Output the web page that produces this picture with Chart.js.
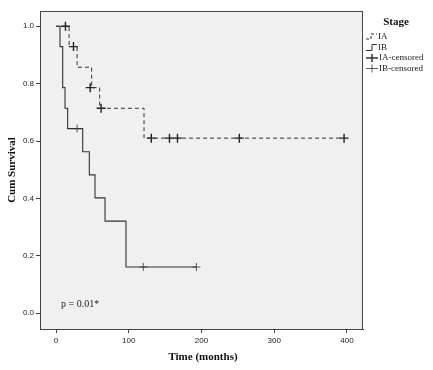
<!DOCTYPE html>
<html>
<head>
<meta charset="utf-8">
<script src="https://cdn.jsdelivr.net/npm/chart.js@4.4.1/dist/chart.umd.min.js"></script>
<style>
  body { margin: 0; background: #fff; }
  #wrap { width: 433px; height: 370px; }
</style>
</head>
<body>
<div id="wrap"><canvas id="grafico_km" width="433" height="370"></canvas></div>
<script>
// curva Kaplan-Meier (tiempo en meses, supervivencia acumulada)
const tiemposIA = [0, 18, 29, 49, 60, 121, 396]
const survIA = [1.0, 0.929, 0.857, 0.786, 0.714, 0.61, 0.61]
const tiemposIB = [0, 5.5, 9.2, 12.4, 16, 36.7, 45.8, 53.6, 67.4, 96.2, 193]
const survIB = [1.0, 0.929, 0.786, 0.714, 0.643, 0.5625, 0.482, 0.402, 0.321, 0.161, 0.161]
// censurados
const censIA_t = [13, 24, 47, 62, 131, 156, 167, 252, 396]
const censIA_s = [1.0, 0.929, 0.786, 0.714, 0.61, 0.61, 0.61, 0.61, 0.61]
const censIB_t = [29, 120, 193]
const censIB_s = [0.643, 0.161, 0.161]

const ticksX = [0, 100, 200, 300, 400]
const ticksY = [0.0, 0.2, 0.4, 0.6, 0.8, 1.0]
const nombresLeyenda = ['IA', 'IB', 'IA-censored', 'IB-censored']
const textoP = 'p = 0.01*'

const puntos = (xs, ys) => xs.map((x, i) => ({ x: x, y: ys[i] }))

const extras = {
  id: 'extras',
  beforeDraw(chart) {
    const { ctx, chartArea: a } = chart
    ctx.save()
    ctx.fillStyle = '#f0f0f0'
    ctx.fillRect(a.left, a.top, a.right - a.left, a.bottom - a.top)
    ctx.restore()
  },
  afterDraw(chart) {
    const { ctx, chartArea: a } = chart
    ctx.save()
    // marco
    ctx.strokeStyle = '#444'
    ctx.lineWidth = 1
    ctx.strokeRect(a.left + 0.5, a.top + 0.5, a.right - a.left - 1, a.bottom - a.top)

    // titulos de ejes
    ctx.fillStyle = '#111'
    ctx.font = 'bold 11px "Liberation Serif", "DejaVu Serif", serif'
    ctx.textAlign = 'center'
    ctx.textBaseline = 'middle'
    ctx.fillText('Time (months)', 203, 357)
    ctx.save()
    ctx.translate(12, 170)
    ctx.rotate(-Math.PI / 2)
    ctx.fillText('Cum Survival', 0, 0)
    ctx.restore()

    // valor p
    ctx.font = '10px "Liberation Serif", serif'
    ctx.textAlign = 'left'
    ctx.fillStyle = '#222'
    ctx.fillText(textoP, 61, 304)

    // leyenda
    ctx.font = 'bold 11px "Liberation Serif", serif'
    ctx.textAlign = 'center'
    ctx.fillStyle = '#111'
    ctx.fillText('Stage', 396, 22)
    ctx.font = '9px "Liberation Serif", serif'
    ctx.textAlign = 'left'
    ctx.strokeStyle = '#333'
    const filas = [37, 47.5, 58, 68.5]
    // IA (linea a trazos en escalon)
    ctx.lineWidth = 1
    ctx.setLineDash([3, 2])
    ctx.beginPath()
    ctx.moveTo(366, filas[0] + 2); ctx.lineTo(371, filas[0] + 2)
    ctx.lineTo(371, filas[0] - 3); ctx.lineTo(377, filas[0] - 3)
    ctx.stroke()
    ctx.setLineDash([])
    // IB
    ctx.beginPath()
    ctx.moveTo(366, filas[1] + 3); ctx.lineTo(372, filas[1] + 3)
    ctx.lineTo(372, filas[1] - 3); ctx.lineTo(377, filas[1] - 3)
    ctx.stroke()
    // censurados
    ctx.lineWidth = 1.5
    ctx.beginPath()
    ctx.moveTo(366, filas[2]); ctx.lineTo(378, filas[2])
    ctx.moveTo(372, filas[2] - 4); ctx.lineTo(372, filas[2] + 4)
    ctx.stroke()
    ctx.lineWidth = 0.8
    ctx.beginPath()
    ctx.moveTo(366, filas[3]); ctx.lineTo(378, filas[3])
    ctx.moveTo(372, filas[3] - 4); ctx.lineTo(372, filas[3] + 4)
    ctx.stroke()
    ctx.fillStyle = '#222'
    nombresLeyenda.forEach((n, i) => {
      ctx.fillText(n, i < 2 ? 378 : 379, filas[i])
    })
    ctx.restore()
  }
}

const ctx = document.getElementById('grafico_km').getContext('2d')
const myChart = new Chart(ctx, {
  type: 'scatter',
  data: {
    datasets: [{
      label: 'IA',
      data: puntos(tiemposIA, survIA),
      showLine: true,
      stepped: 'before',
      borderColor: '#333',
      borderWidth: 1,
      borderDash: [4, 3],
      pointRadius: 0
    }, {
      label: 'IB',
      data: puntos(tiemposIB, survIB),
      showLine: true,
      stepped: 'before',
      borderColor: '#333',
      borderWidth: 1.1,
      pointRadius: 0
    }, {
      label: 'IA-censored',
      data: puntos(censIA_t, censIA_s),
      showLine: false,
      pointStyle: 'cross',
      pointRadius: 4.5,
      borderColor: '#222',
      borderWidth: 1.4
    }, {
      label: 'IB-censored',
      data: puntos(censIB_t, censIB_s),
      showLine: false,
      pointStyle: 'cross',
      pointRadius: 4,
      borderColor: '#333',
      borderWidth: 0.8
    }]
  },
  options: {
    responsive: false,
    animation: false,
    layout: { padding: { top: 11, right: 70, left: 0, bottom: 0 } },
    plugins: {
      legend: { display: false },
      tooltip: { enabled: false }
    },
    scales: {
      x: {
        type: 'linear',
        min: -22,
        max: 422,
        afterBuildTicks: (s) => { s.ticks = ticksX.map(v => ({ value: v })) },
        afterFit: (s) => { s.height = 41 },
        grid: { drawOnChartArea: false, drawTicks: true, tickLength: 4, color: '#444' },
        border: { display: true, color: '#444' },
        ticks: { color: '#222', font: { size: 8, family: 'Arial, "Liberation Sans", sans-serif' }, padding: 3 }
      },
      y: {
        type: 'linear',
        min: -0.055,
        max: 1.053,
        afterBuildTicks: (s) => { s.ticks = ticksY.map(v => ({ value: v })) },
        afterFit: (s) => { s.width = 40 },
        grid: { drawOnChartArea: false, drawTicks: true, tickLength: 4, color: '#444' },
        border: { display: true, color: '#444' },
        ticks: {
          color: '#222',
          font: { size: 8, family: 'Arial, "Liberation Sans", sans-serif' },
          padding: 2,
          callback: (v) => v.toFixed(1)
        }
      }
    }
  },
  plugins: [extras]
})
</script>
</body>
</html>
